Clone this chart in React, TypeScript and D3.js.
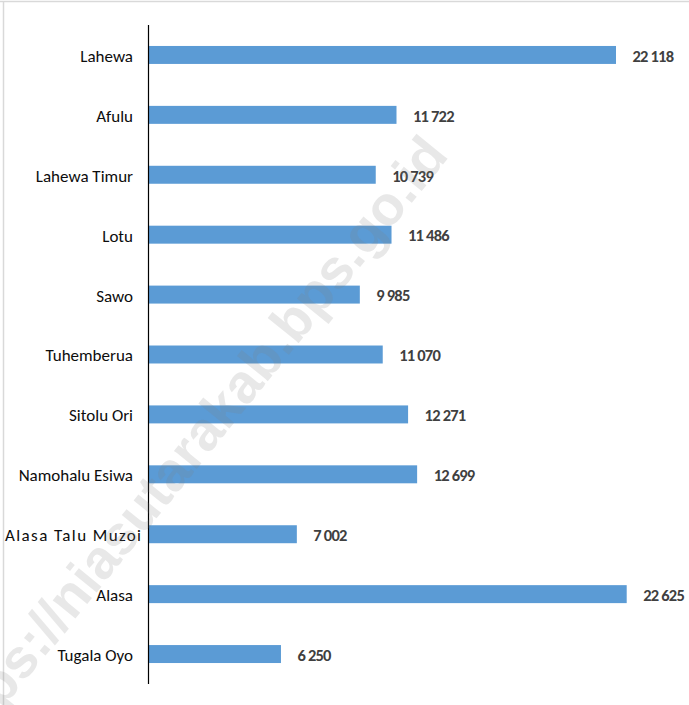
import React from "react";
import * as d3 from "d3";

const categories = [
  "Lahewa",
  "Afulu",
  "Lahewa Timur",
  "Lotu",
  "Sawo",
  "Tuhemberua",
  "Sitolu Ori",
  "Namohalu Esiwa",
  "Alasa Talu Muzoi",
  "Alasa",
  "Tugala Oyo",
];
const values = [22118, 11722, 10739, 11486, 9985, 11070, 12271, 12699, 7002, 22625, 6250];
const valueLabels = ["22 118", "11 722", "10 739", "11 486", "9 985", "11 070", "12 271", "12 699", "7 002", "22 625", "6 250"];
const watermark = "https://niasutarakab.bps.go.id";

const W = 689;
const H = 705;
const axisX = 148.5;
const top = 25;
const bottom = 684;
const FONT = "Carlito, Lato, 'Open Sans', sans-serif";
const CAT_SIZE = 17;

export default function App() {
  const y = d3.scaleBand<string>().domain(categories).range([top, bottom]).paddingInner(0.7).paddingOuter(0.35);
  const x = d3.scaleLinear().domain([0, 22118]).range([axisX + 0.5, 616]);
  const labelRight = 133;

  return (
    <div style={{ position: "absolute", left: 0, top: 0 }}>
      <svg width={W} height={H} style={{ display: "block", background: "#fff" }}>
        <line x1={0} x2={W} y1={1.5} y2={1.5} stroke="#d9d9d9" strokeWidth={1.5} />
        <line x1={3.5} x2={3.5} y1={1.5} y2={H} stroke="#d9d9d9" strokeWidth={1.5} />
        {categories.map((c, i) => {
          const yy = y(c) as number;
          const bw = y.bandwidth();
          const long = c.length > 15;
          return (
            <g key={c}>
              <rect x={x(0)} y={yy} width={x(values[i]) - x(0)} height={bw} fill="#5b9bd5" />
              <text
                x={long ? 5 : labelRight}
                y={yy + bw / 2 + 1}
                dy="0.35em"
                textAnchor={long ? "start" : "end"}
                textLength={long ? 136 : undefined}
                lengthAdjust={long ? "spacing" : undefined}
                fontFamily={FONT}
                fontSize={CAT_SIZE}
                fill="#0d0d0d"
              >
                {c}
              </text>
              <text
                x={x(values[i]) + 16.5}
                y={yy + bw / 2 + 1}
                dy="0.35em"
                fontFamily={FONT}
                fontSize={16.5}
                fontWeight="bold"
                letterSpacing={-0.8}
                fill="#404040"
              >
                {valueLabels[i]}
              </text>
            </g>
          );
        })}
        <line x1={axisX} x2={axisX} y1={top} y2={bottom} stroke="#000" strokeWidth={1.2} />
        <text
          transform="translate(450,156) rotate(-51)"
          textAnchor="end"
          fontFamily="'Liberation Sans', Arial, sans-serif"
          fontWeight="bold"
          fontSize={55}
          fill="#808080"
          fillOpacity={0.18}
        >
          {watermark}
        </text>
      </svg>
    </div>
  );
}
